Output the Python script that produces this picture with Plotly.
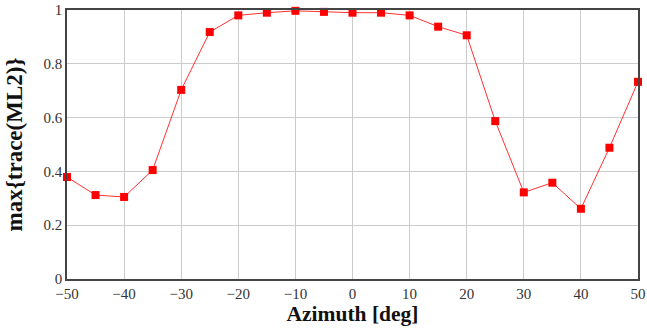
import plotly.graph_objects as go

azimuth = [-50, -45, -40, -35, -30, -25, -20, -15, -10, -5, 0, 5, 10, 15, 20, 25, 30, 35, 40, 45, 50]
max_trace = [0.379, 0.312, 0.305, 0.405, 0.703, 0.918, 0.980, 0.990, 0.997, 0.993, 0.990, 0.990, 0.980,
             0.938, 0.906, 0.587, 0.322, 0.358, 0.261, 0.488, 0.733]

fig = go.Figure()
fig.add_trace(go.Scatter(
    x=azimuth, y=max_trace, mode="lines+markers",
    line=dict(color="#ff3030", width=1),
    marker=dict(symbol="square", size=8, color="#ff0000"),
    cliponaxis=False,
))

serif = "'Liberation Serif', 'Times New Roman', serif"
fig.update_layout(
    width=647, height=329,
    margin=dict(l=67, r=9, t=10, b=50, autoexpand=False),
    paper_bgcolor="white", plot_bgcolor="white",
    showlegend=False,
    font=dict(family=serif, size=15, color="#333"),
)
fig.update_xaxes(
    range=[-50, 50], dtick=10, tick0=-50, automargin=False,
    showgrid=True, gridcolor="#cccccc", gridwidth=1,
    showline=True, linecolor="#444", linewidth=1.6, mirror=True,
    zeroline=False, ticks="",
    tickfont=dict(family=serif, size=15, color="#333"),
    title=dict(text="<b>Azimuth [deg]</b>", font=dict(size=21.5, family=serif, color="#111"), standoff=0),
)
fig.update_yaxes(
    range=[0, 1], dtick=0.2, automargin=False,
    showgrid=True, gridcolor="#cccccc", gridwidth=1,
    showline=True, linecolor="#444", linewidth=1.6, mirror=True,
    zeroline=False, ticks="",
    tickfont=dict(family=serif, size=15, color="#333"),
    title=dict(text="<b>max{trace(ML2)}</b>", font=dict(size=23, family=serif, color="#111"), standoff=14),
)
fig.write_html("out.html", config={"displayModeBar": False},
               post_script="document.body.style.margin='0';document.body.style.overflow='hidden';")
